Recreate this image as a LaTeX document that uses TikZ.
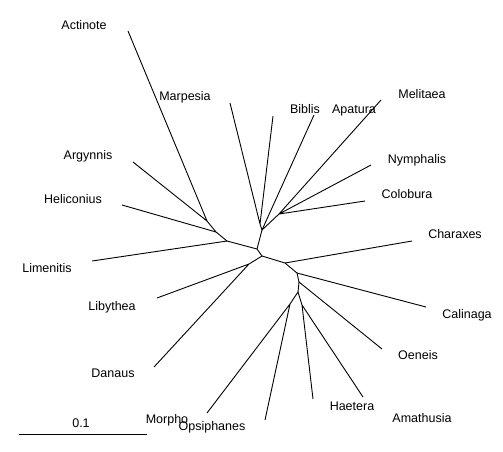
\documentclass[tikz,border=0pt]{standalone}
\usepackage{fontspec}
\setmainfont{Liberation Sans}
\usepackage{tikz}
\usetikzlibrary{calc}

\begin{document}
\begin{tikzpicture}[
    x=1pt, y=-1pt,
    branch_line/.style={draw=black, line width=0.9pt, line join=round},
    tip_lbl/.style={anchor=base, inner sep=0pt, font=\fontsize{12.5}{14}\selectfont}
]
    \useasboundingbox (0,0) rectangle (503,451);

    % Internal Nodes
    \coordinate (N1) at (207,221);
    \coordinate (N2) at (216,232);
    \coordinate (N3) at (227,241);
    \coordinate (N4) at (257,249);
    \coordinate (N5) at (262,256);
    \coordinate (N6) at (249,264);
    \coordinate (N7) at (285,263);
    \coordinate (N8) at (297,273);
    \coordinate (N9) at (299,282);
    \coordinate (N10) at (298,292);
    \coordinate (N11) at (290,304);
    \coordinate (N12) at (302,305);
    \coordinate (G1) at (260,224);
    \coordinate (G2) at (262,230);
    \coordinate (G3) at (279,214);

    % Tips
    \coordinate (Actinote) at (128,31);
    \coordinate (Argynnis) at (133,162);
    \coordinate (Heliconius) at (122,205);
    \coordinate (Limenitis) at (92,261);
    \coordinate (Libythea) at (157,298);
    \coordinate (Danaus) at (154,367);
    \coordinate (Morpho) at (207,413);
    \coordinate (Opsiphanes) at (265,420);
    \coordinate (Haetera) at (313,399);
    \coordinate (Amathusia) at (363,397);
    \coordinate (Oeneis) at (382,349);
    \coordinate (Calinaga) at (426,307);
    \coordinate (Charaxes) at (412,241);
    \coordinate (Marpesia) at (230,103);
    \coordinate (Biblis) at (273,116);
    \coordinate (Apatura) at (314,115);
    \coordinate (Melitaea) at (381,100);
    \coordinate (Nymphalis) at (371,165);
    \coordinate (Colobura) at (365,201);

    % Branches
    \draw[branch_line] (Actinote) -- (N1) (Argynnis) -- (N1);
    \draw[branch_line] (N1) -- (N2) -- (N3) -- (N4) -- (N5);
    \draw[branch_line] (Heliconius) -- (N2) (Limenitis) -- (N3);
    \draw[branch_line] (N5) -- (N6) (Libythea) -- (N6) (Danaus) -- (N6);
    \draw[branch_line] (N5) -- (N7) -- (N8) -- (N9) -- (N10);
    \draw[branch_line] (Charaxes) -- (N7) (Calinaga) -- (N8) (Oeneis) -- (N9);
    \draw[branch_line] (N10) -- (N11) (Morpho) -- (N11) (Opsiphanes) -- (N11);
    \draw[branch_line] (N10) -- (N12) (Haetera) -- (N12) (Amathusia) -- (N12);
    \draw[branch_line] (N4) -- (G2) -- (G1) (Marpesia) -- (G1) (Biblis) -- (G1);
    \draw[branch_line] (Apatura) -- (G2) (G2) -- (G3);
    \draw[branch_line] (Melitaea) -- (G3) (Nymphalis) -- (G3) (Colobura) -- (G3);

    % Labels
    \node[tip_lbl] (LActinote) at (84,29) {Actinote};
    \node[tip_lbl] (LMarpesia) at (185,100) {Marpesia};
    \node[tip_lbl] (LArgynnis) at (88,159) {Argynnis};
    \node[tip_lbl] (LHeliconius) at (73,203) {Heliconius};
    \node[tip_lbl] (LLimenitis) at (47,272) {Limenitis};
    \node[tip_lbl] (LLibythea) at (112,310) {Libythea};
    \node[tip_lbl] (LDanaus) at (113,377) {Danaus};
    \node[tip_lbl] (LMorpho) at (167,423) {Morpho};
    \node[tip_lbl] (LOpsiphanes) at (212,430) {Opsiphanes};
    \node[tip_lbl] (LHaetera) at (352,410) {Haetera};
    \node[tip_lbl] (LAmathusia) at (422,422) {Amathusia};
    \node[tip_lbl] (LOeneis) at (418,359) {Oeneis};
    \node[tip_lbl] (LCalinaga) at (467,318) {Calinaga};
    \node[tip_lbl] (LCharaxes) at (455,238) {Charaxes};
    \node[tip_lbl] (LBiblis) at (305,113) {Biblis};
    \node[tip_lbl] (LApatura) at (354,113) {Apatura};
    \node[tip_lbl] (LMelitaea) at (422,98) {Melitaea};
    \node[tip_lbl] (LNymphalis) at (417,163) {Nymphalis};
    \node[tip_lbl] (LColobura) at (407,198) {Colobura};

    % Scale Bar
    \coordinate (BarL) at (19,434);
    \coordinate (BarR) at (147,434);
    \draw[branch_line] (BarL) -- (BarR);
    \node[tip_lbl] (LBar) at (81,427) {0.1};
\end{tikzpicture}
\end{document}
